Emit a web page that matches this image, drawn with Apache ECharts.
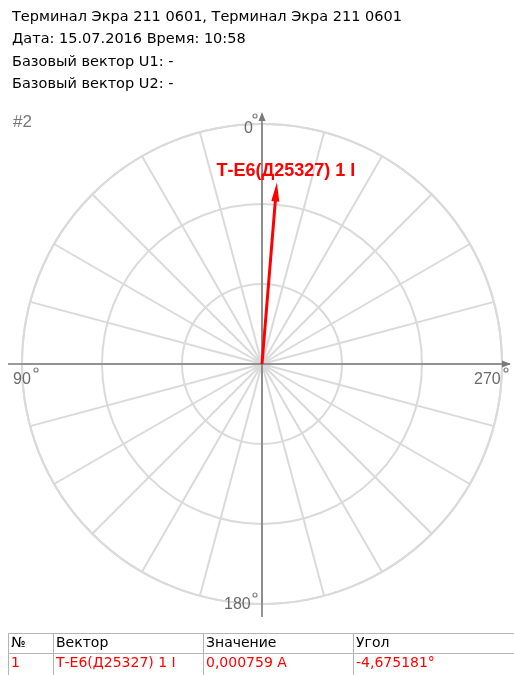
<!DOCTYPE html>
<html>
<head>
<meta charset="utf-8">
<script src="https://cdn.jsdelivr.net/npm/echarts@6/dist/echarts.min.js"></script>
<style>
  html, body { margin: 0; padding: 0; background: #ffffff; }
  #chart { width: 514px; height: 675px; }
</style>
</head>
<body>
<div id="chart"></div>
<script>
// Header lines of the vector diagram
const headerLines = [
  'Терминал Экра 211 0601, Терминал Экра 211 0601',
  'Дата: 15.07.2016 Время: 10:58',
  'Базовый вектор U1: -',
  'Базовый вектор U2: -'
];
const diagramTag = '#2';

// Vectors: name, magnitude (A), angle (degrees, counter-clockwise from top)
const vectorNames = ['Т-Е6(Д25327) 1 I'];
const vectorValues = [0.000759];
const vectorUnits = ['A'];
const vectorAngles = [-4.675181];

// Polar scale
const radiusMax = 0.001;
const radiusSplits = 3;
const angleStep = 15;
const angleTickLabels = [0, 90, 180, 270];

// Table
const tableColumns = ['№', 'Вектор', 'Значение', 'Угол'];

// Layout
const CX = 262, CY = 364, R = 240;
const FONT = '"Liberation Sans", Arial, sans-serif';
const TEXT_FONT = '"DejaVu Sans", sans-serif';
const AXIS_DARK = '#7a7a7a';
const GRID_LIGHT = '#dadada';
const LABEL_GRAY = '#6a6a6a';

const chart = echarts.init(document.getElementById('chart'), null, { renderer: 'canvas' });

const graphics = [];

// header text
headerLines.forEach((t, i) => {
  graphics.push({
    type: 'text', x: 12, y: 17 + i * 22.5,
    style: { text: t, font: '14.5px ' + TEXT_FONT, fill: '#000', verticalAlign: 'middle' }
  });
});
graphics.push({
  type: 'text', x: 13, y: 114,
  style: { text: diagramTag, font: '17px ' + FONT, fill: '#777' }
});

// dark cross axes with arrowheads
graphics.push({
  type: 'line', z: 3,
  shape: { x1: 8, y1: CY, x2: CX + R + 8, y2: CY },
  style: { stroke: AXIS_DARK, lineWidth: 1.6 }
});
graphics.push({
  type: 'polygon', z: 3,
  shape: { points: [[CX + R + 9, CY], [CX + R, CY - 3.5], [CX + R, CY + 3.5]] },
  style: { fill: AXIS_DARK }
});
graphics.push({
  type: 'line', z: 3,
  shape: { x1: CX, y1: CY + R + 13, x2: CX, y2: CY - R - 10 },
  style: { stroke: AXIS_DARK, lineWidth: 1.6 }
});
graphics.push({
  type: 'polygon', z: 3,
  shape: { points: [[CX, CY - R - 12], [CX - 3.5, CY - R - 3], [CX + 3.5, CY - R - 3]] },
  style: { fill: AXIS_DARK }
});

// angle tick labels with a raised degree ring
const tickLabelPos = {
  0:   { x: CX - 18, y: CY - R - 3, dx: 7, dy: -5 },
  90:  { x: CX - R - 9, y: CY + 8, dx: 19, dy: -2 },
  180: { x: CX - 38, y: CY + R - 7, dx: 27, dy: -2 },
  270: { x: CX + R - 28, y: CY + 8, dx: 28, dy: -2 }
};
angleTickLabels.forEach(a => {
  const p = tickLabelPos[a];
  graphics.push({
    type: 'text', x: p.x, y: p.y, z: 4,
    style: { text: String(a), font: '16px ' + FONT, fill: LABEL_GRAY }
  });
  graphics.push({
    type: 'circle', z: 4,
    shape: { cx: p.x + p.dx + 4, cy: p.y + p.dy, r: 2 },
    style: { fill: 'none', stroke: '#808080', lineWidth: 1.2 }
  });
});

// table
const colX = [8, 53, 203, 353, 514];
const rowY = [633, 653, 673];
const rows = [tableColumns].concat(vectorNames.map((n, i) => [
  String(i + 1),
  n,
  vectorValues[i].toFixed(6).replace('.', ',') + ' ' + vectorUnits[i],
  vectorAngles[i].toFixed(6).replace('.', ',') + '°'
]));
graphics.push({ type: 'line', shape: { x1: colX[0], y1: rowY[0] + 0.5, x2: 514, y2: rowY[0] + 0.5 }, style: { stroke: '#b4b4b4', lineWidth: 1 } });
graphics.push({ type: 'line', shape: { x1: colX[0], y1: rowY[1] + 0.5, x2: 514, y2: rowY[1] + 0.5 }, style: { stroke: '#b4b4b4', lineWidth: 1 } });
colX.slice(0, 4).forEach(x => {
  graphics.push({ type: 'line', shape: { x1: x + 0.5, y1: rowY[0], x2: x + 0.5, y2: 675 }, style: { stroke: '#b4b4b4', lineWidth: 1 } });
});
rows.forEach((row, ri) => {
  row.forEach((cell, ci) => {
    graphics.push({
      type: 'text', x: colX[ci] + 3, y: rowY[ri] + 10.5,
      style: { text: cell, font: '14px ' + TEXT_FONT, fill: ri === 0 ? '#000' : '#ff0000', verticalAlign: 'middle' }
    });
  });
});

const vectorData = vectorValues.map((v, i) => [v, (vectorAngles[i] + 360) % 360, i]);

const option = {
  animation: false,
  backgroundColor: '#ffffff',
  polar: { center: [CX, CY], radius: R },
  angleAxis: {
    type: 'value', min: 0, max: 360, interval: angleStep,
    startAngle: 90, clockwise: false,
    axisLine: { show: true, lineStyle: { color: GRID_LIGHT, width: 2 } },
    axisTick: { show: false },
    axisLabel: { show: false },
    splitLine: { show: true, lineStyle: { color: GRID_LIGHT, width: 2 } }
  },
  radiusAxis: {
    type: 'value', min: 0, max: radiusMax, interval: radiusMax / radiusSplits,
    axisLine: { show: false },
    axisTick: { show: false },
    axisLabel: { show: false },
    splitLine: { show: true, lineStyle: { color: GRID_LIGHT, width: 2 } }
  },
  graphic: graphics,
  series: [{
    type: 'custom',
    coordinateSystem: 'polar',
    z: 10,
    data: vectorData,
    renderItem: function (params, api) {
      const r = api.value(0), a = api.value(1), idx = api.value(2);
      const tip = api.coord([r, a]);
      const o = api.coord([0, a]);
      const dx = tip[0] - o[0], dy = tip[1] - o[1];
      const len = Math.sqrt(dx * dx + dy * dy);
      const ux = dx / len, uy = dy / len;
      const nx = -uy, ny = ux;
      const headLen = 19, headHalf = 4;
      const bx = tip[0] - ux * headLen, by = tip[1] - uy * headLen;
      return {
        type: 'group',
        children: [
          { type: 'line', shape: { x1: o[0], y1: o[1], x2: bx + ux * 2, y2: by + uy * 2 },
            style: { stroke: '#ff0000', lineWidth: 3 } },
          { type: 'polygon', shape: { points: [tip, [bx + nx * headHalf, by + ny * headHalf], [bx - nx * headHalf, by - ny * headHalf]] },
            style: { fill: '#ff0000' } },
          { type: 'text', x: tip[0] + 9, y: tip[1] - 11,
            style: { text: vectorNames[idx], font: 'bold 18px ' + FONT, fill: '#ff0000', align: 'center', verticalAlign: 'middle' } }
        ]
      };
    }
  }]
};

chart.setOption(option);
</script>
</body>
</html>
